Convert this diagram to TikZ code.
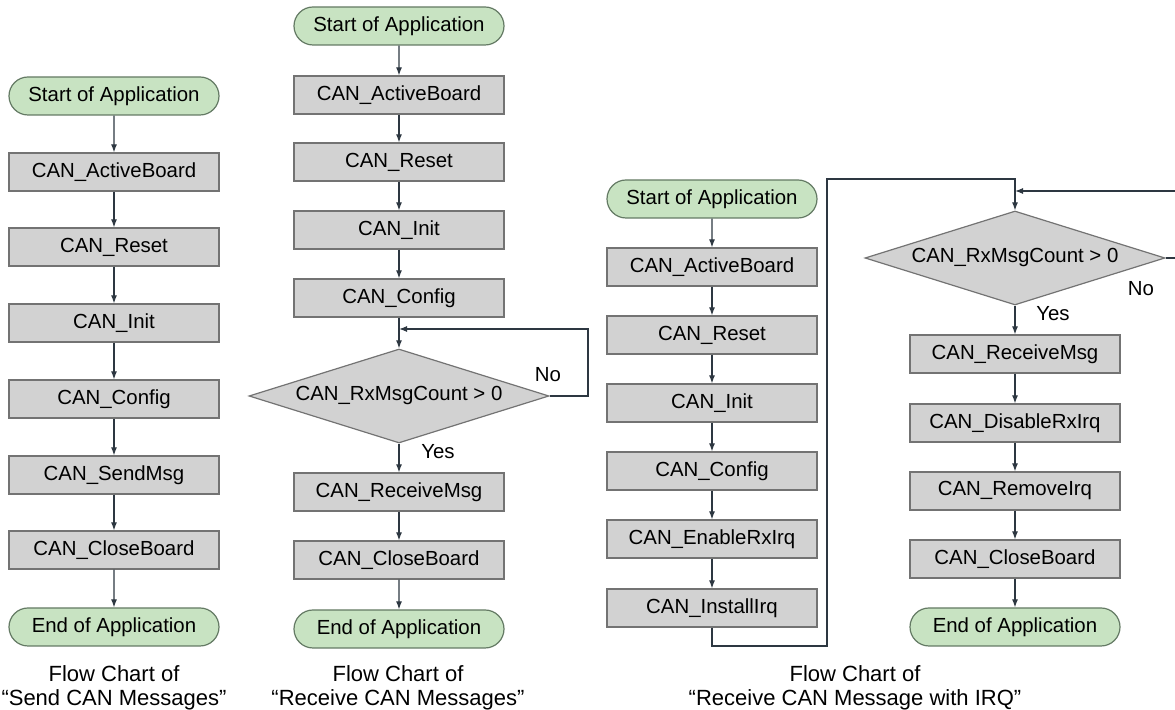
\documentclass[tikz,border=0pt]{standalone}
\usepackage{fontspec}
\setmainfont{Liberation Sans}
\usetikzlibrary{shapes.geometric,shapes.misc,arrows.meta}

\definecolor{boxgray}{RGB}{210,210,210}
\definecolor{boxline}{RGB}{115,115,115}
\definecolor{termgreen}{RGB}{200,227,194}
\definecolor{termline}{RGB}{100,122,100}
\definecolor{flowline}{RGB}{45,55,65}

\tikzset{
  txt/.style={font=\fontsize{10.2}{12}\selectfont},
  func/.style={txt, rectangle, draw=boxline, fill=boxgray, line width=0.6pt,
    minimum width=105pt, minimum height=19pt, inner sep=0pt},
  term/.style={txt, rounded rectangle, draw=termline, fill=termgreen, line width=0.6pt,
    minimum width=105pt, minimum height=19pt, inner sep=0pt},
  test/.style={txt, diamond, draw=boxline, fill=boxgray, line width=0.6pt, aspect=3.2,
    minimum width=150pt, minimum height=47pt, inner sep=0pt},
  flow/.style={draw=flowline, line width=0.6pt, -{Latex[length=4pt,width=3pt]}},
  wire/.style={draw=flowline, line width=0.6pt},
  caption/.style={align=center, font=\fontsize{11}{12}\selectfont}
}

\begin{document}
\begin{tikzpicture}[x=0.5pt, y=-0.5pt]
  \useasboundingbox (0,0) rectangle (1175,710);

  % send CAN messages
  \node[term] (start1)  at (114,96)  {Start of Application};
  \node[func] (board1)  at (114,172) {CAN\_ActiveBoard};
  \node[func] (reset1)  at (114,247) {CAN\_Reset};
  \node[func] (init1)   at (114,323) {CAN\_Init};
  \node[func] (config1) at (114,399) {CAN\_Config};
  \node[func] (send1)   at (114,475) {CAN\_SendMsg};
  \node[func] (close1)  at (114,550) {CAN\_CloseBoard};
  \node[term] (end1)    at (114,627) {End of Application};
  \foreach \a/\b in {start1/board1, board1/reset1, reset1/init1, init1/config1,
                     config1/send1, send1/close1, close1/end1}
    \draw[flow] (\a) -- (\b);
  \node[caption] (cap1) at (114,688) {Flow Chart of\\“Send CAN Messages”};

  % receive CAN messages
  \node[term] (start2)  at (399,26)  {Start of Application};
  \node[func] (board2)  at (399,95)  {CAN\_ActiveBoard};
  \node[func] (reset2)  at (399,162) {CAN\_Reset};
  \node[func] (init2)   at (399,230) {CAN\_Init};
  \node[func] (config2) at (399,298) {CAN\_Config};
  \node[test] (count2)  at (399,396) {CAN\_RxMsgCount > 0};
  \node[func] (recv2)   at (399,492) {CAN\_ReceiveMsg};
  \node[func] (close2)  at (399,560) {CAN\_CloseBoard};
  \node[term] (end2)    at (399,629) {End of Application};
  \foreach \a/\b in {start2/board2, board2/reset2, reset2/init2, init2/config2,
                     config2/count2, count2/recv2, recv2/close2, close2/end2}
    \draw[flow] (\a) -- (\b);
  \coordinate (join2) at (399,329);
  \coordinate (turn2) at (588,396);
  \draw[flow] (count2.east) -- (turn2) |- (join2);
  \node[txt] (no2)  at (548,375) {No};
  \node[txt] (yes2) at (438,452) {Yes};
  \node[caption] (cap2) at (398,688) {Flow Chart of\\“Receive CAN Messages”};

  % receive CAN message with IRQ
  \node[term] (start3)   at (712,199) {Start of Application};
  \node[func] (board3)   at (712,267) {CAN\_ActiveBoard};
  \node[func] (reset3)   at (712,335) {CAN\_Reset};
  \node[func] (init3)    at (712,403) {CAN\_Init};
  \node[func] (config3)  at (712,471) {CAN\_Config};
  \node[func] (enable3)  at (712,539) {CAN\_EnableRxIrq};
  \node[func] (install3) at (712,608) {CAN\_InstallIrq};
  \node[test] (count3)   at (1015,258) {CAN\_RxMsgCount > 0};
  \node[func] (recv3)    at (1015,354) {CAN\_ReceiveMsg};
  \node[func] (disable3) at (1015,423) {CAN\_DisableRxIrq};
  \node[func] (remove3)  at (1015,491) {CAN\_RemoveIrq};
  \node[func] (close3)   at (1015,559) {CAN\_CloseBoard};
  \node[term] (end3)     at (1015,627) {End of Application};
  \foreach \a/\b in {start3/board3, board3/reset3, reset3/init3, init3/config3,
                     config3/enable3, enable3/install3, count3/recv3,
                     recv3/disable3, disable3/remove3, remove3/close3, close3/end3}
    \draw[flow] (\a) -- (\b);
  \coordinate (down3) at (712,646);
  \coordinate (up3)   at (827,179);
  \draw[flow] (install3.south) -- (down3) -| (up3) -| (count3.north);
  \coordinate (join3) at (1015,191);
  \coordinate (turn3) at (1190,258);
  \draw[flow] (count3.east) -- (turn3) |- (join3);
  \node[txt] (no3)  at (1141,289) {No};
  \node[txt] (yes3) at (1053,314) {Yes};
  \node[caption] (cap3) at (855,688) {Flow Chart of\\“Receive CAN Message with IRQ”};
\end{tikzpicture}
\end{document}
